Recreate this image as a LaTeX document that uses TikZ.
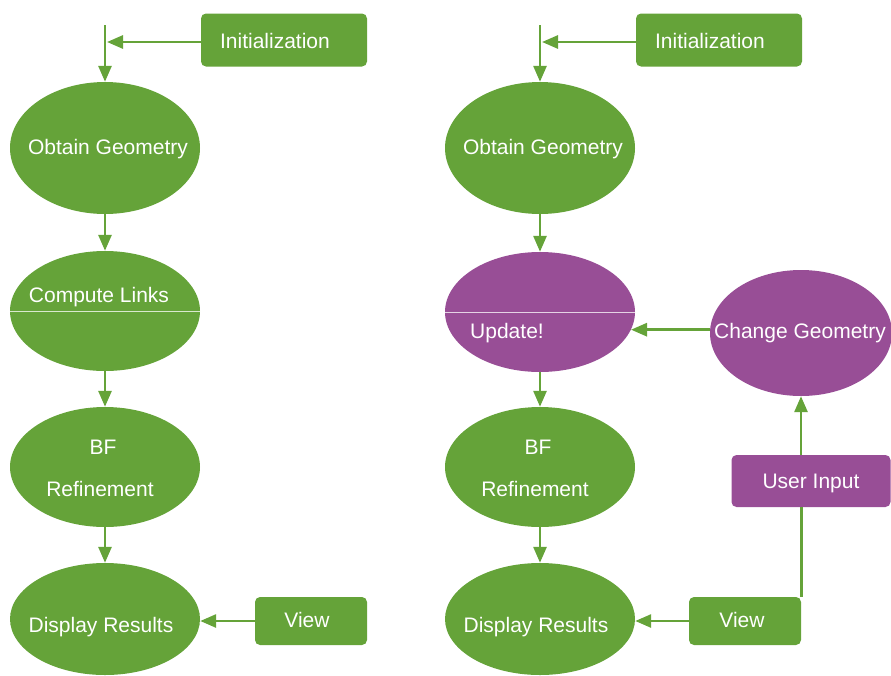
\documentclass[tikz,border=0pt]{standalone}
\usepackage{fontspec}
\setmainfont{Liberation Sans}
\usetikzlibrary{shapes.geometric,arrows.meta}
\definecolor{grn}{RGB}{101,163,57}
\definecolor{prp}{RGB}{152,78,150}
\begin{document}
\begin{tikzpicture}[x=1pt,y=-1pt,
 ell/.style={ellipse, fill=#1, draw=none, inner sep=0pt},
 box/.style={rectangle, rounded corners=5pt, fill=#1, draw=none, inner sep=0pt},
 lbl/.style={text=white, font=\fontsize{21}{25}\selectfont, inner sep=0pt},
 con/.style={draw=grn, line width=2.8pt, -{Triangle[length=16pt,width=13pt]}},
 plain/.style={draw=grn, line width=2.8pt},
 split/.style={draw=white!75!#1, line width=0.8pt},
 ]
\useasboundingbox (0,0) rectangle (891,675);

% ---------- left flow ----------
\node[ell=grn, minimum width=190pt, minimum height=132pt] (og1) at (105,148) {};
\node[lbl] (og1t) at (108,149) {Obtain Geometry};
\node[ell=grn, minimum width=190pt, minimum height=120pt] (cl1) at (105,311) {};
\draw[split=grn] (cl1.west) -- (cl1.east);
\node[lbl] (cl1t) at (99,297) {Compute Links};
\node[ell=grn, minimum width=190pt, minimum height=120pt] (bf1) at (105,467) {};
\node[lbl] (bf1a) at (103,447) {BF};
\node[lbl] (bf1b) at (100,489) {Refinement};
\node[ell=grn, minimum width=190pt, minimum height=112pt] (dr1) at (105,619) {};
\node[lbl] (dr1t) at (101,627) {Display Results};
\node[box=grn, minimum width=166pt, minimum height=53pt] (in1) at (284,40) {};
\node[lbl] (in1t) at (275,41) {Initialization};
\node[box=grn, minimum width=112pt, minimum height=48pt] (vw1) at (311,621) {};
\node[lbl] (vw1t) at (307,620) {View};

\coordinate (top1) at (105,25);
\coordinate (j1) at (107,42);
\draw[con] (top1) -- (og1.north);
\draw[con] (in1.west |- j1) -- (j1);
\draw[con] (og1.south) -- (cl1.north);
\draw[con] (cl1.south) -- (bf1.north);
\draw[con] (bf1.south) -- (dr1.north);
\draw[con] (vw1.west) -- (vw1.west -| dr1.east);

% ---------- right flow ----------
\node[ell=grn, minimum width=190pt, minimum height=132pt] (og2) at (540,148) {};
\node[lbl] (og2t) at (543,149) {Obtain Geometry};
\node[ell=prp, minimum width=190pt, minimum height=120pt] (up2) at (540,312) {};
\draw[split=prp] (up2.west) -- (up2.east);
\node[lbl] (up2t) at (507,333) {Update!};
\node[ell=grn, minimum width=190pt, minimum height=120pt] (bf2) at (540,467) {};
\node[lbl] (bf2a) at (538,447) {BF};
\node[lbl] (bf2b) at (535,489) {Refinement};
\node[ell=grn, minimum width=190pt, minimum height=112pt] (dr2) at (540,619) {};
\node[lbl] (dr2t) at (536,627) {Display Results};
\node[box=grn, minimum width=166pt, minimum height=53pt] (in2) at (719,40) {};
\node[lbl] (in2t) at (710,41) {Initialization};
\node[ell=prp, minimum width=182pt, minimum height=126pt] (cg2) at (801,333) {};
\node[lbl] (cg2t) at (800,333) {Change Geometry};
\node[box=prp, minimum width=159pt, minimum height=52pt] (ui2) at (811,481) {};
\node[lbl] (ui2t) at (811,483) {User Input};
\node[box=grn, minimum width=112pt, minimum height=48pt] (vw2) at (745,621) {};
\node[lbl] (vw2t) at (742,620) {View};

\coordinate (top2) at (540,25);
\coordinate (j2) at (542,42);
\draw[con] (top2) -- (og2.north);
\draw[con] (in2.west |- j2) -- (j2);
\draw[con] (og2.south) -- (up2.north);
\draw[con] (up2.south) -- (bf2.north);
\draw[con] (bf2.south) -- (dr2.north);
\draw[con] (vw2.west) -- (vw2.west -| dr2.east);
\draw[con] (cg2.west |- up2.-11) -- (up2.-11);
\draw[con] (ui2.north -| cg2.south) -- (cg2.south);
\draw[plain] (vw2.north east) -- (vw2.north east |- ui2.south);
\end{tikzpicture}
\end{document}
